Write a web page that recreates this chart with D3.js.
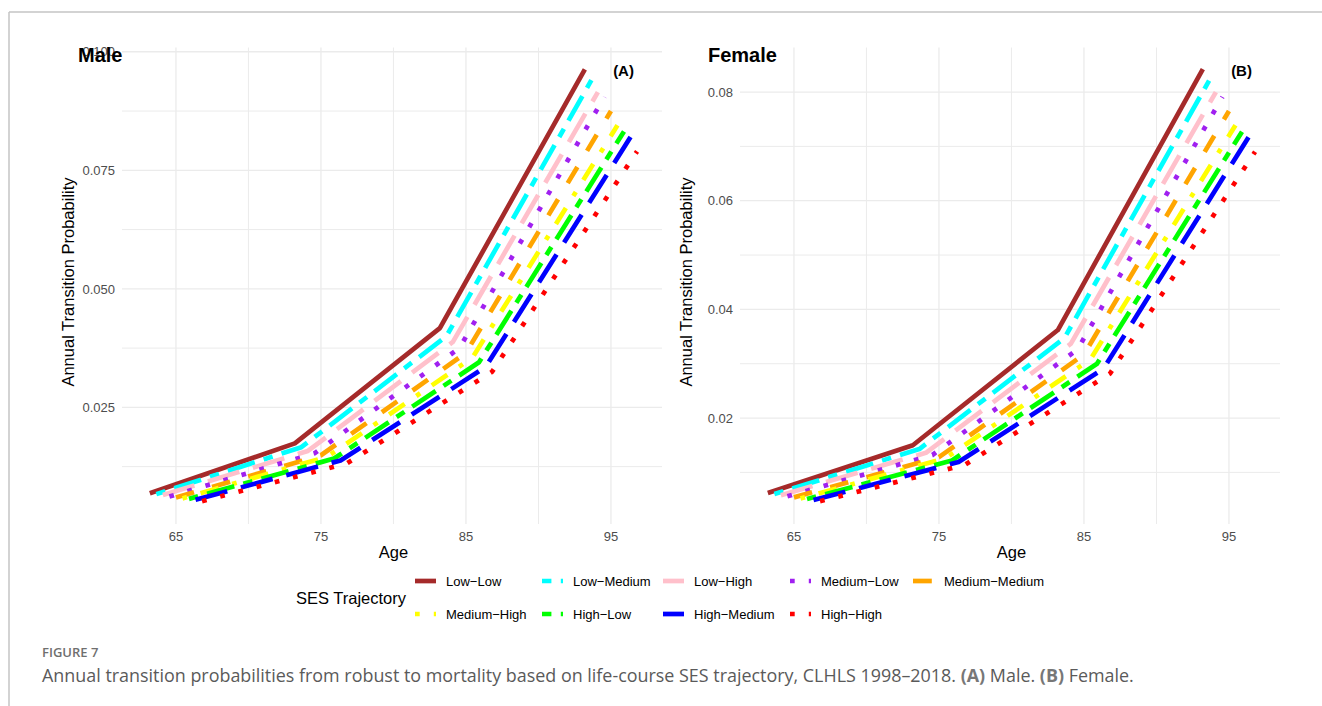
<!DOCTYPE html>
<html>
<head>
<meta charset="utf-8">
<title>SES trajectory transition probabilities</title>
<script src="https://d3js.org/d3.v7.min.js"></script>
<style>
  body { margin: 0; background: #fff; }
  svg { display: block; }
</style>
</head>
<body>
<div id="chart"></div>
<script>
// categories (SES trajectory), in legend / drawing order
var categories = ["Low-Low", "Low-Medium", "Low-High", "Medium-Low", "Medium-Medium",
                  "Medium-High", "High-Low", "High-Medium", "High-High"];
var ages = [65, 75, 85, 95];

// one row per category, values at ages 65, 75, 85, 95
var maleValues = [
  [0.0069, 0.0174, 0.0417, 0.0963],
  [0.0067, 0.0166, 0.0400, 0.0940],
  [0.0065, 0.0158, 0.0388, 0.0915],
  [0.0062, 0.0153, 0.0375, 0.0905],
  [0.0060, 0.0149, 0.0365, 0.0875],
  [0.0058, 0.0146, 0.0355, 0.0845],
  [0.0057, 0.0142, 0.0345, 0.0832],
  [0.0055, 0.0138, 0.0335, 0.0820],
  [0.0052, 0.0132, 0.0325, 0.0790]
];
var femaleValues = [
  [0.0062, 0.0150, 0.0362, 0.0842],
  [0.0060, 0.0143, 0.0347, 0.0822],
  [0.0058, 0.0136, 0.0337, 0.0800],
  [0.0056, 0.0132, 0.0326, 0.0791],
  [0.0054, 0.0128, 0.0317, 0.0765],
  [0.0052, 0.0126, 0.0308, 0.0739],
  [0.0051, 0.0122, 0.0300, 0.0727],
  [0.0049, 0.0119, 0.0291, 0.0717],
  [0.0047, 0.0114, 0.0282, 0.0690]
];
var maleTicks = [0.025, 0.050, 0.075, 0.100];
var femaleTicks = [0.02, 0.04, 0.06, 0.08];

// styles
var colors = ["#A52A2A", "#00FFFF", "#FFC0CB", "#A020F0", "#FFA500",
              "#FFFF00", "#00FF00", "#0000FF", "#FF0000"];
var u = 4.7; // ggplot dash unit = line width
var patterns = {
  solid: null,
  dashed: [4, 4],
  dotted: [1, 3],
  dotdash: [1, 3, 4, 3],
  longdash: [7, 3],
  twodash: [2, 2, 6, 2]
};
var linetypes = ["solid", "twodash", "longdash", "dotted", "dashed",
                 "dotdash", "twodash", "longdash", "dotted"];
function dash(i) {
  var p = patterns[linetypes[i]];
  return p ? p.map(function(d) { return d * u; }).join(",") : null;
}

var W = 1322, H = 706;
var font = "'Liberation Sans', Arial, Helvetica, sans-serif";

var svg = d3.select("#chart").append("svg")
  .attr("width", W).attr("height", H)
  .style("font-family", font);

// frame of the figure box
svg.append("line").attr("x1", 9).attr("x2", W).attr("y1", 12).attr("y2", 12)
  .attr("stroke", "#c4c4c4").attr("stroke-width", 1.5);
svg.append("line").attr("x1", 9).attr("x2", 9).attr("y1", 12).attr("y2", H)
  .attr("stroke", "#c4c4c4").attr("stroke-width", 1.5);

// dodge positions of the categories around each age
var dodge = d3.scalePoint().domain(categories).range([-1.8, 1.8]);

function drawPanel(p) {
  var g = svg.append("g");
  var x = d3.scaleLinear().domain([61.28, 98.52]).range([p.left, p.left + 540]);
  var y = d3.scaleLinear().domain(p.yDomain).range([524, 47.5]);

  // grid: minor then major
  var xMinor = [70, 80, 90];
  var step = p.yTicks[1] - p.yTicks[0];
  var yMinor = p.yTicks.map(function(t) { return t - step / 2; })
    .filter(function(t) { return t > p.yDomain[0]; });
  g.selectAll(".vminor").data(xMinor).enter().append("line")
    .attr("x1", x).attr("x2", x).attr("y1", 524).attr("y2", 47.5)
    .attr("stroke", "#EBEBEB").attr("stroke-width", 1);
  g.selectAll(".hminor").data(yMinor).enter().append("line")
    .attr("x1", p.left).attr("x2", p.left + 540).attr("y1", y).attr("y2", y)
    .attr("stroke", "#EBEBEB").attr("stroke-width", 1);
  g.selectAll(".vmajor").data(ages).enter().append("line")
    .attr("x1", x).attr("x2", x).attr("y1", 524).attr("y2", 47.5)
    .attr("stroke", "#EBEBEB").attr("stroke-width", 1.3);
  g.selectAll(".hmajor").data(p.yTicks).enter().append("line")
    .attr("x1", p.left).attr("x2", p.left + 540).attr("y1", y).attr("y2", y)
    .attr("stroke", "#EBEBEB").attr("stroke-width", 1.3);

  // tick labels
  g.selectAll(".xt").data(ages).enter().append("text")
    .attr("x", x).attr("y", 541).attr("text-anchor", "middle")
    .attr("font-size", 13).attr("fill", "#4D4D4D").text(d3.format("d"));
  g.selectAll(".yt").data(p.yTicks).enter().append("text")
    .attr("x", p.left - 7).attr("y", y).attr("dy", "0.36em").attr("text-anchor", "end")
    .attr("font-size", 13).attr("fill", "#4D4D4D").text(d3.format(p.fmt));

  // axis titles
  g.append("text").attr("x", x(80)).attr("y", 558).attr("text-anchor", "middle")
    .attr("font-size", 16.5).attr("fill", "#000").text("Age");
  g.append("text")
    .attr("transform", "translate(" + (p.left - 48) + "," + 282 + ") rotate(-90)")
    .attr("text-anchor", "middle").attr("font-size", 16.5).attr("fill", "#000")
    .text("Annual Transition Probability");

  // lines
  var line = d3.line()
    .x(function(d) { return x(d.age); })
    .y(function(d) { return y(d.value); });
  categories.forEach(function(c, i) {
    var pts = ages.map(function(a, j) { return { age: a + dodge(c), value: p.values[i][j] }; });
    g.append("path").datum(pts)
      .attr("d", line)
      .attr("fill", "none")
      .attr("stroke", colors[i])
      .attr("stroke-width", u)
      .attr("stroke-linecap", "butt")
      .attr("stroke-linejoin", "round")
      .attr("stroke-dasharray", dash(i));
  });

  // titles (the panel title sits over the top tick label, as in the figure)
  g.append("text").attr("x", p.titleX).attr("y", 62).attr("font-size", 20)
    .attr("font-weight", "bold").attr("fill", "#000").text(p.title);
  g.append("text").attr("x", x(95.15)).attr("y", 76).attr("font-size", 15)
    .attr("font-weight", "bold").attr("fill", "#000").text(p.tag);
}

drawPanel({ left: 122, yDomain: [0.0004, 0.1009], yTicks: maleTicks, fmt: ".3f",
            values: maleValues, title: "Male", titleX: 78, tag: "(A)" });
drawPanel({ left: 740, yDomain: [0.0005, 0.0882], yTicks: femaleTicks, fmt: ".2f",
            values: femaleValues, title: "Female", titleX: 708, tag: "(B)" });

// legend
var legendCols = [415, 542, 663, 790, 913];
var legendRows = [581, 614];
svg.append("text").attr("x", 296).attr("y", 604).attr("font-size", 16.5)
  .attr("fill", "#000").text("SES Trajectory");
var leg = svg.selectAll(".leg").data(categories).enter().append("g")
  .attr("transform", function(d, i) {
    return "translate(" + legendCols[i % 5] + "," + legendRows[Math.floor(i / 5)] + ")";
  });
leg.append("line").attr("x1", 0).attr("x2", 21).attr("y1", 0).attr("y2", 0)
  .attr("stroke", function(d, i) { return colors[i]; })
  .attr("stroke-width", u)
  .attr("stroke-dasharray", function(d, i) { return dash(i); });
leg.append("text").attr("x", 31).attr("y", 0).attr("dy", "0.36em")
  .attr("font-size", 13).attr("fill", "#000")
  .text(function(d) { return d.replace("-", "\u2212"); });

// caption
svg.append("text").attr("x", 42).attr("y", 657)
  .style("font-family", "'Open Sans', sans-serif").attr("font-size", 13)
  .attr("font-weight", 600).attr("fill", "#6f6f6f").text("FIGURE 7");
var cap = svg.append("text").attr("x", 42).attr("y", 682)
  .style("font-family", "'Open Sans', sans-serif").attr("font-size", 16)
  .attr("font-weight", 400).attr("fill", "#5a5a5a");
cap.append("tspan").text("Annual transition probabilities from robust to mortality based on life-course SES trajectory, CLHLS 1998\u20132018. ");
cap.append("tspan").attr("font-weight", 700).attr("fill", "#777").text("(A)");
cap.append("tspan").text(" Male. ");
cap.append("tspan").attr("font-weight", 700).attr("fill", "#777").text("(B)");
cap.append("tspan").text(" Female.");
// the caption runs to about x = 1135 in the figure
var capW = cap.node().getComputedTextLength();
cap.attr("font-size", 16 * 1093 / capW);
</script>
</body>
</html>
